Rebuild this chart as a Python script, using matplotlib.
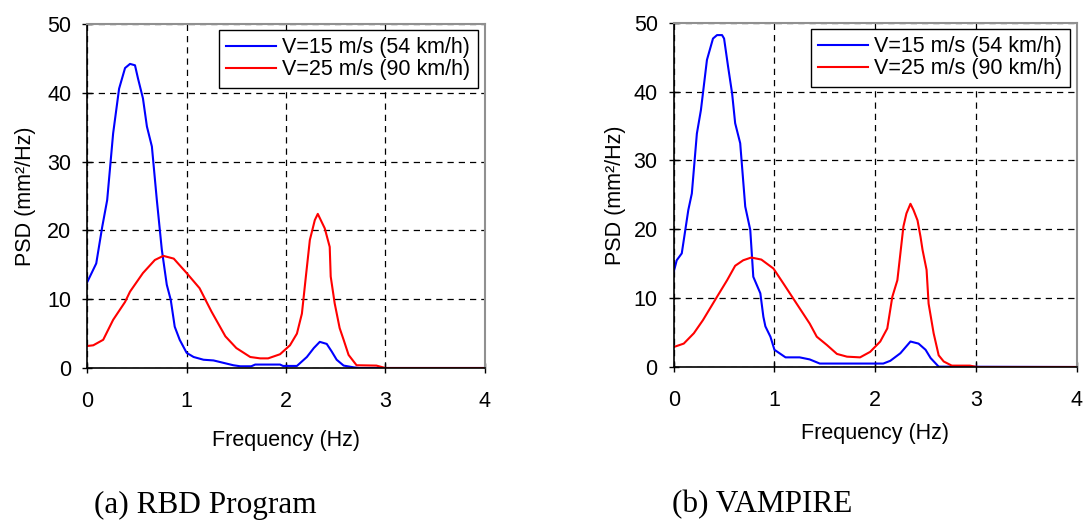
import matplotlib
matplotlib.use("Agg")
import matplotlib.pyplot as plt

# values (frequency in Hz, PSD in mm^2/Hz)
rbd_f15 = [0, 0.09, 0.15, 0.2, 0.26, 0.32, 0.38, 0.43, 0.48, 0.51, 0.56, 0.6, 0.65, 0.7,
           0.75, 0.8, 0.84, 0.88, 0.93, 1.0, 1.07, 1.17, 1.27, 1.47, 1.54, 1.65, 1.69,
           1.94, 1.97, 2.11, 2.21, 2.28, 2.34, 2.41, 2.46, 2.51, 2.58, 2.68, 2.74, 4.0]
rbd_p15 = [12.5, 15.2, 20.5, 24.4, 34.1, 40.6, 43.6, 44.2, 44.0, 42.1, 39.2, 35.1, 32.2,
           24.4, 17.2, 12.1, 9.9, 6.0, 4.1, 2.2, 1.6, 1.2, 1.1, 0.4, 0.25, 0.25, 0.5,
           0.5, 0.3, 0.3, 1.6, 2.9, 3.8, 3.5, 2.4, 1.2, 0.35, 0.1, 0.0, 0.0]
rbd_f25 = [0, 0.06, 0.16, 0.26, 0.38, 0.43, 0.56, 0.68, 0.765, 0.87, 1.0, 1.13, 1.25,
           1.39, 1.5, 1.64, 1.74, 1.82, 1.94, 2.04, 2.11, 2.16, 2.2, 2.24, 2.29, 2.32,
           2.35, 2.39, 2.44, 2.45, 2.49, 2.54, 2.58, 2.63, 2.71, 2.91, 3.0, 4.0]
rbd_p25 = [3.2, 3.3, 4.1, 7.0, 9.6, 11.1, 13.8, 15.7, 16.3, 15.9, 13.8, 11.6, 8.2, 4.6,
           2.9, 1.6, 1.4, 1.4, 2.0, 3.3, 5.0, 7.9, 13.3, 18.6, 21.5, 22.4, 21.5, 20.3,
           17.6, 13.3, 9.4, 5.8, 4.1, 1.9, 0.4, 0.35, 0.0, 0.0]

vam_f15 = [0, 0.03, 0.08, 0.11, 0.145, 0.18, 0.23, 0.27, 0.33, 0.39, 0.43, 0.48, 0.5,
           0.54, 0.58, 0.61, 0.66, 0.71, 0.76, 0.79, 0.86, 0.89, 0.91, 0.96, 1.0, 1.11,
           1.25, 1.35, 1.45, 1.82, 2.08, 2.15, 2.25, 2.35, 2.43, 2.5, 2.55, 2.63, 4.0]
vam_p15 = [13.8, 15.5, 16.5, 19.4, 22.8, 25.2, 33.9, 37.3, 44.6, 47.7, 48.2, 48.2, 47.7,
           43.6, 39.7, 35.4, 32.5, 23.3, 19.9, 13.1, 10.7, 7.3, 5.9, 4.4, 2.5, 1.4, 1.4,
           1.1, 0.5, 0.5, 0.5, 0.9, 2.0, 3.7, 3.4, 2.5, 1.3, 0.05, 0.0]
vam_f25 = [0, 0.1, 0.2, 0.29, 0.43, 0.53, 0.61, 0.69, 0.77, 0.87, 0.99, 1.09, 1.22, 1.35,
           1.42, 1.52, 1.62, 1.72, 1.85, 1.95, 2.05, 2.12, 2.17, 2.22, 2.25, 2.28, 2.31,
           2.35, 2.38, 2.42, 2.45, 2.47, 2.51, 2.53, 2.58, 2.63, 2.68, 2.76, 2.94, 3.01, 4.0]
vam_p25 = [2.9, 3.4, 4.9, 6.8, 10.2, 12.6, 14.7, 15.5, 15.9, 15.6, 14.3, 12.1, 9.2, 6.3,
           4.4, 3.2, 1.9, 1.5, 1.4, 2.2, 3.7, 5.6, 10.2, 12.6, 16.5, 20.4, 22.3, 23.7,
           22.8, 21.3, 18.9, 17.0, 14.1, 9.2, 4.9, 1.7, 0.8, 0.2, 0.2, 0.0, 0.0]

x_ticks = [0, 1, 2, 3, 4]
y_ticks = [0, 10, 20, 30, 40, 50]
series_labels = ["V=15 m/s (54 km/h)", "V=25 m/s (90 km/h)"]
captions = ["(a) RBD Program", "(b) VAMPIRE"]

SANS = ["Liberation Sans", "DejaVu Sans"]
SERIF = ["Liberation Serif", "DejaVu Serif"]
W, H = 1084, 525


def draw_panel(ax, f15, p15, f25, p25, ylab_x, xlab_y):
    ax.plot(f15, p15, color="#0000ff", lw=1.5, label=series_labels[0])
    ax.plot(f25, p25, color="#ff0000", lw=1.5, label=series_labels[1])
    ax.set_xlim(0, 4)
    ax.set_ylim(0, 50)
    ax.set_xticks(x_ticks)
    ax.set_yticks(y_ticks)
    ax.grid(True, color="black", linestyle=(0, (5, 4)), lw=0.9)
    for s in ("top", "right"):
        ax.spines[s].set_color("#909090")
        ax.spines[s].set_linewidth(1.5)
    for s in ("left", "bottom"):
        ax.spines[s].set_color("black")
        ax.spines[s].set_linewidth(1.2)
    ax.tick_params(direction="inout", length=7, width=1, labelsize=15.5, pad=8)
    ax.tick_params(axis="x", pad=13)
    for lab in ax.get_xticklabels() + ax.get_yticklabels():
        lab.set_family(SANS)
    ax.set_ylabel("PSD (mm²/Hz)", family=SANS, fontsize=15.5)
    ax.yaxis.set_label_coords(ylab_x, 0.5)
    ax.set_xlabel("Frequency (Hz)", family=SANS, fontsize=15.5)
    ax.xaxis.set_label_coords(0.5, xlab_y)
    leg = ax.legend(loc="upper right", bbox_to_anchor=(0.983, 0.983), frameon=True,
                    fancybox=False, edgecolor="black", framealpha=1,
                    prop={"family": SANS, "size": 15.5}, handlelength=2.3,
                    handletextpad=0.3, labelspacing=0.05, borderpad=0.35,
                    borderaxespad=0)
    leg.get_frame().set_linewidth(1.0)


fig = plt.figure(figsize=(W / 100, H / 100), dpi=100)
ax1 = fig.add_axes([87.3 / W, 1 - 368 / H, 397.4 / W, 344 / H])
ax2 = fig.add_axes([673.7 / W, 1 - 367 / H, 403 / W, 344.3 / H])

draw_panel(ax1, rbd_f15, rbd_p15, rbd_f25, rbd_p25, -0.129, -0.18)
draw_panel(ax2, vam_f15, vam_p15, vam_f25, vam_p25, -0.119, -0.163)

fig.text(205 / W, 1 - 505 / H, captions[0], family=SERIF, fontsize=22.5,
         ha="center", va="center")
fig.text(762 / W, 1 - 505 / H, captions[1], family=SERIF, fontsize=22.5,
         ha="center", va="center")

fig.savefig("out.png", dpi=100)
